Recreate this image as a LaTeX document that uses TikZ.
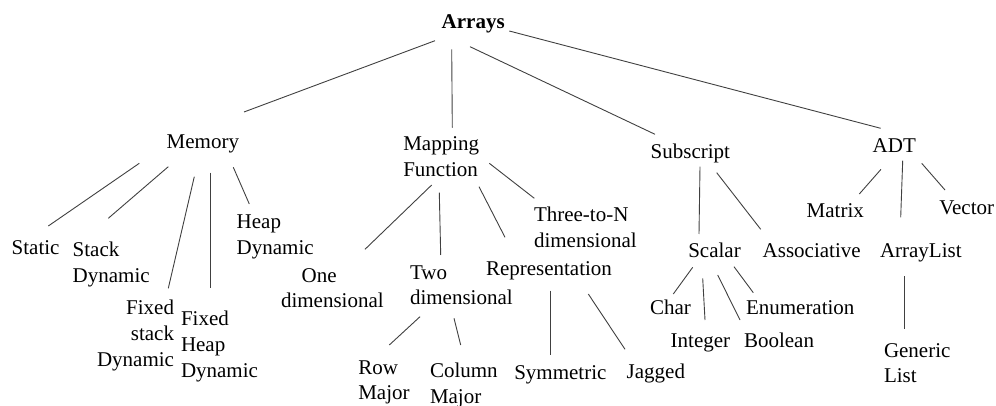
\documentclass[tikz,border=0pt]{standalone}
\usepackage{fontspec}
\setmainfont{Liberation Serif}
\newcommand\lnk[4]{\draw[edge] ([shift={(#2)}]#1) -- ([shift={(#4)}]#3);}
\begin{document}
\begin{tikzpicture}[x=1pt,y=-1pt,
  lbl/.style={inner sep=0pt,outer sep=0pt,anchor=base west,align=left,font=\fontsize{21}{25.8}\selectfont},
  edge/.style={line width=0.9pt,draw=black!75}]
\useasboundingbox (0,0) rectangle (996,406);
% nodes (base = baseline of the last line)
\node[lbl,font=\fontsize{21}{25.8}\selectfont\bfseries] (arr) at (441.7,29) {Arrays};
\node[lbl] (mem) at (166.7,149) {Memory};
\node[lbl] (map) at (403.3,176.8) {Mapping\\Function};
\node[lbl] (sub) at (650.7,158.5) {Subscript};
\node[lbl] (adt) at (872.7,152.5) {ADT};
\node[lbl] (stat) at (11.7,254.5) {Static};
\node[lbl] (stk) at (72.7,282.8) {Stack\\Dynamic};
\node[lbl,anchor=base east,align=right] (fsd) at (174,366.1) {Fixed\ \\stack\ \\Dynamic};
\node[lbl] (fhd) at (181,377.2) {Fixed\\Heap\\Dynamic};
\node[lbl] (hd) at (236.7,254.8) {Heap\\Dynamic};
\node[lbl] (one) at (281,307.8) {\hspace*{20.7pt}One\\dimensional};
\node[lbl] (two) at (410,304.8) {Two\\dimensional};
\node[lbl] (tn) at (534,247.8) {Three-to-N\\dimensional};
\node[lbl] (rep) at (486,276) {Representation};
\node[lbl] (row) at (358.3,399.8) {Row\\Major};
\node[lbl] (col) at (430,403.3) {Column\\Major};
\node[lbl] (sym) at (514.3,379) {Symmetric};
\node[lbl] (jag) at (626.7,378.5) {Jagged};
\node[lbl] (sca) at (688.3,257.5) {Scalar};
\node[lbl] (ass) at (762.7,257.5) {Associative};
\node[lbl] (mat) at (806.7,218) {Matrix};
\node[lbl] (vec) at (939.3,214.5) {Vector};
\node[lbl] (al) at (880,258) {ArrayList};
\node[lbl] (chr) at (650,314) {Char};
\node[lbl] (int) at (670.7,347) {Integer};
\node[lbl] (bool) at (744,347) {Boolean};
\node[lbl] (enu) at (746,314) {Enumeration};
\node[lbl] (gen) at (884,382.8) {Generic\\List};
% connectors
\lnk{arr.base west}{-6.7,11.7}{mem.base west}{77.3,-37}
\lnk{arr.base west}{10,20.3}{map.base west}{49,-49.1}
\lnk{arr.base west}{28.3,17.7}{sub.base west}{4.3,-24.2}
\lnk{arr.base west}{67.6,2}{adt.base west}{8,-24.2}
\lnk{mem.base west}{-27.4,14.3}{stat.base west}{36.6,-28.5}
\lnk{mem.base west}{1.6,17.7}{stk.base west}{35.6,-64.5}
\lnk{mem.base west}{27.6,27.7}{fsd.base east}{-5.7,-77.8}
\lnk{mem.base west}{44,23.7}{fhd.base west}{29.7,-88.9}
\lnk{mem.base west}{66.6,18.3}{hd.base west}{12.6,-50.8}
\lnk{map.base west}{28.4,8.2}{one.base west}{84,-58.5}
\lnk{map.base west}{36,15.9}{two.base west}{30.7,-49.8}
\lnk{map.base west}{75.7,9.9}{rep.base west}{19,-38.7}
\lnk{map.base west}{86,-13.5}{tn.base west}{0.3,-49.5}
\lnk{two.base west}{10,11.9}{row.base west}{31,-54.8}
\lnk{two.base west}{44,13.5}{col.base west}{30.7,-58.3}
\lnk{rep.base west}{64,14.7}{sym.base west}{35.7,-24}
\lnk{rep.base west}{102.3,18}{jag.base west}{-1.7,-29.2}
\lnk{sub.base west}{49.3,8.2}{sca.base west}{10.7,-23.5}
\lnk{sub.base west}{66,14.2}{ass.base west}{-2,-28.2}
\lnk{adt.base west}{8.3,16.8}{mat.base west}{52.6,-24}
\lnk{adt.base west}{30,8.2}{al.base west}{20.7,-40.7}
\lnk{adt.base west}{49,10.8}{vec.base west}{5.7,-24.5}
\lnk{sca.base west}{4.4,9.8}{chr.base west}{23.3,-20}
\lnk{sca.base west}{14.4,20.8}{int.base west}{34.3,-27}
\lnk{sca.base west}{29.4,17.5}{bool.base west}{-4,-27}
\lnk{sca.base west}{45.7,9.2}{enu.base west}{7.3,-21.3}
\lnk{al.base west}{24.3,18}{gen.base west}{20.3,-53.5}
\end{tikzpicture}
\end{document}
